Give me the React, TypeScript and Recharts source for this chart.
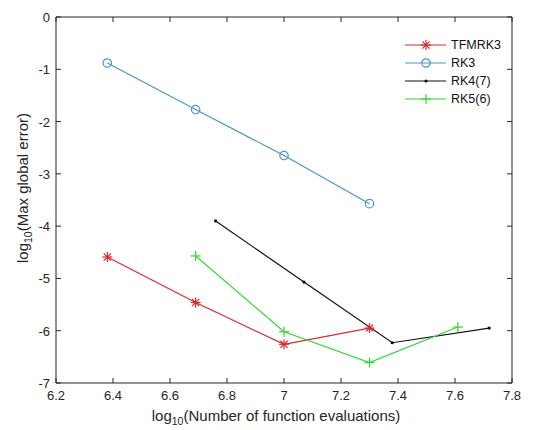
import React from "react";
import { LineChart, Line, XAxis, YAxis, Legend } from "recharts";

const xTicks = [6.2, 6.4, 6.6, 6.8, 7, 7.2, 7.4, 7.6, 7.8];
const yTicks = [0, -1, -2, -3, -4, -5, -6, -7];

const tfmrk3X = [6.38, 6.69, 7.0, 7.3];
const tfmrk3Y = [-4.59, -5.46, -6.26, -5.95];
const rk3X = [6.38, 6.69, 7.0, 7.3];
const rk3Y = [-0.88, -1.77, -2.65, -3.57];
const rk47X = [6.76, 7.07, 7.38, 7.72];
const rk47Y = [-3.9, -5.07, -6.23, -5.95];
const rk56X = [6.69, 7.0, 7.3, 7.61];
const rk56Y = [-4.57, -6.02, -6.61, -5.93];

const zip = (xs: number[], ys: number[]) => xs.map((x, i) => ({ x, y: ys[i] }));

const AXIS = "#262626";
const FONT = "'Liberation Sans', Arial, sans-serif";

type Kind = "star" | "circle" | "dot" | "plus";

const series: { name: string; color: string; kind: Kind; data: { x: number; y: number }[] }[] = [
  { name: "TFMRK3", color: "#d92b2b", kind: "star", data: zip(tfmrk3X, tfmrk3Y) },
  { name: "RK3", color: "#4a96c4", kind: "circle", data: zip(rk3X, rk3Y) },
  { name: "RK4(7)", color: "#111111", kind: "dot", data: zip(rk47X, rk47Y) },
  { name: "RK5(6)", color: "#33d633", kind: "plus", data: zip(rk56X, rk56Y) },
];

function Marker({ kind, cx, cy, color }: { kind: Kind; cx: number; cy: number; color: string }) {
  if (kind === "circle")
    return <circle cx={cx} cy={cy} r={4.2} fill="none" stroke={color} strokeWidth={1.2} />;
  if (kind === "dot") return <circle cx={cx} cy={cy} r={1.6} fill={color} />;
  const s = 5;
  const d = 3.6;
  return (
    <g stroke={color} strokeWidth={1.2}>
      <line x1={cx - s} y1={cy} x2={cx + s} y2={cy} />
      <line x1={cx} y1={cy - s} x2={cx} y2={cy + s} />
      {kind === "star" && (
        <>
          <line x1={cx - d} y1={cy - d} x2={cx + d} y2={cy + d} />
          <line x1={cx - d} y1={cy + d} x2={cx + d} y2={cy - d} />
        </>
      )}
    </g>
  );
}

const BottomTick = (p: any) => (
  <g>
    <line x1={p.x} y1={p.y} x2={p.x} y2={p.y - 5} stroke={AXIS} />
    <text x={p.x} y={p.y + 17} textAnchor="middle" fontSize={13} fill={AXIS} fontFamily={FONT}>
      {p.payload.value}
    </text>
  </g>
);
const TopTick = (p: any) => <line x1={p.x} y1={p.y} x2={p.x} y2={p.y + 5} stroke={AXIS} />;
const LeftTick = (p: any) => (
  <g>
    <line x1={p.x} y1={p.y} x2={p.x + 5} y2={p.y} stroke={AXIS} />
    <text x={p.x - 6} y={p.y + 5} textAnchor="end" fontSize={13} fill={AXIS} fontFamily={FONT}>
      {p.payload.value}
    </text>
  </g>
);
const RightTick = (p: any) => <line x1={p.x} y1={p.y} x2={p.x - 5} y2={p.y} stroke={AXIS} />;

const XTitle = () => (
  <text x={276} y={421} textAnchor="middle" fontSize={15} fill={AXIS} fontFamily={FONT}>
    log<tspan dy={4} fontSize={10.5}>10</tspan>
    <tspan dy={-4}>(Number of function evaluations)</tspan>
  </text>
);

const YTitle = () => {
  const cx = 28;
  const cy = 188;
  return (
    <text
      x={cx}
      y={cy}
      transform={`rotate(-90 ${cx} ${cy})`}
      textAnchor="middle"
      fontSize={15}
      fill={AXIS}
      fontFamily={FONT}
    >
      log<tspan dy={4} fontSize={10.5}>10</tspan>
      <tspan dy={-4}>(Max global error)</tspan>
    </text>
  );
};

const LegendBox = () => (
  <div style={{ fontFamily: FONT, fontSize: 12.5, color: "#111" }}>
    {series.map((s) => (
      <div key={s.name} style={{ display: "flex", alignItems: "center", height: 18 }}>
        <svg width={46} height={18}>
          <line x1={0} y1={9} x2={41} y2={9} stroke={s.color} strokeWidth={1.2} />
          <Marker kind={s.kind} cx={21} cy={9} color={s.color} />
        </svg>
        <span>{s.name}</span>
      </div>
    ))}
  </div>
);

export default function App() {
  return (
    <div style={{ position: "absolute", left: 0, top: 0, background: "#fff" }}>
      <LineChart width={533} height={430} margin={{ top: 12, right: 16, bottom: 17, left: 16 }}>
        <XAxis
          dataKey="x"
          type="number"
          domain={[6.2, 7.8]}
          ticks={xTicks}
          allowDataOverflow
          height={30}
          tickSize={0}
          tickMargin={0}
          tickLine={false}
          axisLine={{ stroke: AXIS }}
          tick={<BottomTick />}
          label={<XTitle />}
        />
        <XAxis
          xAxisId="top"
          orientation="top"
          dataKey="x"
          type="number"
          domain={[6.2, 7.8]}
          ticks={xTicks}
          allowDataOverflow
          height={5}
          tickSize={0}
          tickMargin={0}
          tickLine={false}
          axisLine={{ stroke: AXIS }}
          tick={<TopTick />}
        />
        <YAxis
          type="number"
          domain={[-7, 0]}
          ticks={yTicks}
          allowDataOverflow
          width={40}
          tickSize={0}
          tickMargin={0}
          tickLine={false}
          axisLine={{ stroke: AXIS }}
          tick={<LeftTick />}
          label={<YTitle />}
        />
        <YAxis
          yAxisId="right"
          orientation="right"
          type="number"
          domain={[-7, 0]}
          ticks={yTicks}
          allowDataOverflow
          width={5}
          tickSize={0}
          tickMargin={0}
          tickLine={false}
          axisLine={{ stroke: AXIS }}
          tick={<RightTick />}
        />
        <Legend
          layout="vertical"
          align="center"
          verticalAlign="middle"
          content={<LegendBox />}
          wrapperStyle={{ left: 405, top: 36, width: 120 }}
        />
        {series.map((s) => (
          <Line
            key={s.name}
            name={s.name}
            data={s.data}
            dataKey="y"
            stroke={s.color}
            strokeWidth={1.2}
            isAnimationActive={false}
            dot={(d: any) => <Marker key={d.index} kind={s.kind} cx={d.cx} cy={d.cy} color={s.color} />}
            activeDot={false}
          />
        ))}
      </LineChart>
    </div>
  );
}
